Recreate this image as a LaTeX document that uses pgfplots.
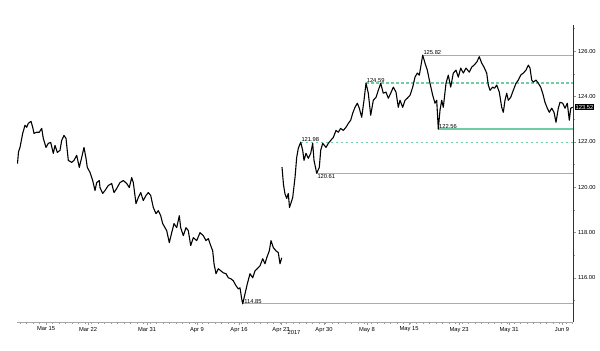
\documentclass[border=0pt]{standalone}
\usepackage{fontspec}
\setmainfont{Liberation Sans}
\usepackage{pgfplots}
\pgfplotsset{compat=1.18}
\definecolor{lvl}{RGB}{110,205,165}
\begin{document}
\begin{tikzpicture}
\useasboundingbox (0,0) rectangle (600bp,351bp);
\begin{axis}[
  at={(17bp,29bp)}, anchor=south west,
  width=556bp, height=297bp, scale only axis,
  xmin=17, xmax=573, ymin=114.05, ymax=127.15,
  axis x line*=bottom, axis y line*=right,
  x axis line style={gray!70, -},
  y axis line style={black!80, -},
  tick align=outside,
  major tick length=2.5bp, minor tick length=1.5bp,
  every tick/.style={gray!80, line width=0.4pt},
  xtick={46,88,147,197,239,281,324,367,409,459,509,562},
  xticklabels={Mar 15,Mar 22,Mar 31,Apr 9,Apr 16,Apr 23,Apr 30,May 8,May 15,May 23,May 31,Jun 9},
  minor xtick={20,26.5,...,572},
  ytick={116,118,120,122,124,126},
  minor ytick={115,117,119,121,123,125,127},
  yticklabel style={xshift=-1bp, /pgf/number format/fixed, /pgf/number format/fixed zerofill, /pgf/number format/precision=2},
  /pgf/number format/assume math mode=true,
  tick label style={font=\fontsize{5.8}{6}\selectfont, black},
  xticklabel style={yshift=1bp},
  clip=false,
]
% level lines
\addplot[color=lvl, no markers, line width=1.2bp] coordinates {(422.7,125.82) (573,125.82)};
\addplot[color=lvl, no markers, line width=1.2bp, dash pattern=on 2.5bp off 2.5bp] coordinates {(366,124.59) (573,124.59)};
\addplot[color=lvl, no markers, line width=1.2bp] coordinates {(438.3,122.56) (573,122.56)};
\addplot[color=lvl, no markers, line width=1.2bp, dash pattern=on 2.5bp off 2.5bp] coordinates {(300.7,121.98) (573,121.98)};
\addplot[color=lvl, no markers, line width=1.2bp] coordinates {(316.7,120.61) (573,120.61)};
\addplot[color=lvl, no markers, line width=1.2bp] coordinates {(242.7,114.85) (573,114.85)};
% price segment 1
\addplot[black, line width=1.1pt, line join=round] coordinates {
(17.5,121.04) (18.5,121.55) (20,121.75) (22.7,122.37) (25,122.73) (26.7,122.64) (28.3,122.81) (31,122.90) (32.7,122.64) (34,122.37) (36.7,122.42) (39.3,122.42) (41.7,122.59) (43.3,122.15) (46,121.75) (48.3,121.93) (50.7,121.97) (53.3,121.49) (55,121.84) (57.3,121.53) (60,121.62) (61.7,122.06) (64,122.28) (66,122.15) (68.3,121.18) (71.7,121.09) (74,121.18) (76.7,121.40) (79.3,120.87) (81.7,121.31) (84,121.75) (86,121.27) (87.3,120.87) (90,120.65) (92.7,120.29) (95,119.85) (96.7,120.20) (99.3,120.29) (100,119.98) (102.7,119.72) (105,119.85) (108.3,120.07) (111.7,120.16) (114,119.76) (116.7,119.94) (120,120.20) (123.3,120.29) (126.7,120.16) (129.3,119.98) (131.7,120.42) (133.3,120.20) (136,119.27) (138.3,119.54) (140.7,119.76) (143.3,119.41) (146,119.63) (148.3,119.76) (150.7,119.63) (153.3,119.10) (156,118.83) (158.3,118.96) (160.7,118.74) (162.7,118.39) (165,118.21) (166.7,118.08) (169.3,117.55) (171.7,117.99) (174,118.39) (176.7,118.21) (179.3,118.74) (180.7,118.21) (183.3,117.86) (186,118.21) (188.3,118.08) (190.7,117.42) (193.3,117.77) (196.7,117.64) (200,117.99) (203.3,117.86) (206,117.64) (208.3,117.73) (210.7,117.42) (212.7,117.19) (214,116.62) (216,116.18) (218.3,116.40) (220.7,116.31) (223.3,116.22) (226,116.18) (228.3,116.00) (230.7,115.96) (233.3,115.87) (236,115.65) (238.3,115.51) (240,115.56) (241.7,115.07) (242.7,114.85) (245,115.29) (247.3,115.73) (250,116.18) (252.7,116.00) (255,116.31) (257.3,116.40) (260,116.53) (262.7,116.84) (265,116.62) (266.7,116.88) (269.3,117.19) (271,117.64) (273.3,117.33) (276,117.19) (278.3,117.11) (280,116.62) (281.7,116.88)
};
% price segment 2
\addplot[black, line width=1.1pt, line join=round] coordinates {
(282,120.88) (283.5,120.1) (285,119.7) (286.7,119.5) (288.3,119.72) (289.5,119.1) (291,119.3) (292.7,119.54) (295,120.42) (296.7,121.31) (298.3,121.71) (300.7,121.98) (302.7,121.62) (304,121.18) (306,121.49) (308.3,121.27) (310.7,121.49) (312.7,121.93) (314,121.18) (316.7,120.61) (319.3,120.87) (320.7,121.62) (322.7,121.93) (326,121.75) (328.3,121.93) (330.7,122.06) (333.3,122.19) (336,122.50) (338.3,122.42) (340.7,122.59) (343.3,122.50) (346,122.64) (348.3,122.81) (350.7,122.95) (352.7,123.26) (355,123.52) (357.3,123.70) (359.3,123.48) (361.7,123.08) (364,123.83) (366,124.59) (368.3,124.14) (370.7,123.17) (373.3,123.83) (376,123.96) (378.3,124.27) (380.7,124.58) (383.3,124.14) (386,124.19) (388.3,123.92) (390.7,124.14) (393.3,124.41) (396,124.19) (398.3,123.52) (400,123.83) (402.7,123.52) (405,123.83) (407.3,123.92) (410,124.05) (412.7,124.41) (415,124.85) (417.3,125.03) (419.3,124.94) (420.7,125.29) (422.7,125.82) (425,125.47) (427.3,125.16) (430,124.58) (432.7,124.05) (435,123.70) (436.7,123.83) (438.3,122.56) (440,123.39) (441.7,123.83) (443.3,123.52) (446,124.58) (448.3,124.94) (450.7,124.41) (453.3,125.03) (456,125.16) (458.3,124.85) (460.7,125.25) (463.3,125.03) (466,125.25) (469.3,125.07) (471.7,125.29) (474,125.38) (476.7,125.51) (479.3,125.75) (481.7,125.47) (484,125.29) (486.7,125.03) (488.3,124.50) (490,124.27) (492.7,124.41) (494.5,124.36) (496.7,124.50) (499.3,124.19) (501.7,123.52) (503.3,123.30) (505,123.83) (506.7,124.14) (508.3,123.83) (510.7,123.96) (513.3,124.27) (516,124.58) (518.3,124.72) (520.7,124.94) (523.3,125.03) (526,125.16) (528.3,125.38) (530,125.25) (531.7,124.72) (533.3,124.63) (536,124.72) (538.3,124.58) (540.7,124.41) (542.7,124.14) (545,123.74) (547.3,123.48) (549.3,123.30) (551.7,123.48) (554,123.30) (556,122.86) (558.3,123.48) (560,123.74) (562.7,123.70) (565,123.48) (567.3,123.70) (569.3,122.95) (570.7,123.48) (572.7,123.52)
};
% level labels
\begin{scope}[every node/.style={font=\fontsize{5.8}{6}\selectfont, inner sep=0.6bp}]
\node[anchor=south west] at (axis cs:422.7,125.82) {125.82};
\node[anchor=south west] at (axis cs:366,124.59) {124.59};
\node[anchor=south west] at (axis cs:438.3,122.56) {122.56};
\node[anchor=south west] at (axis cs:300.7,121.98) {121.98};
\node[anchor=north west] at (axis cs:316.7,120.61) {120.61};
\node[anchor=south west] at (axis cs:243.5,114.85) {114.85};
\node[anchor=west, fill=black, text=white, inner sep=1bp] at (axis cs:574.5,123.52) {123.52};
\node[anchor=north] at (axis cs:294,114.05) [yshift=-8bp] {2017};
\end{scope}
\end{axis}
\end{tikzpicture}
\end{document}
